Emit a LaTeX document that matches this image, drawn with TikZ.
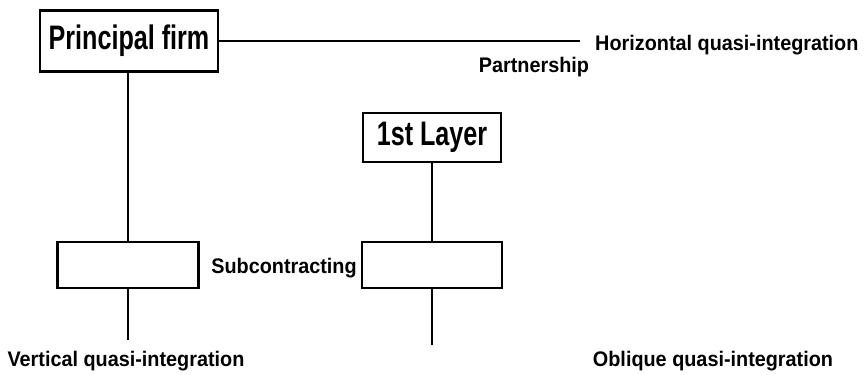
\documentclass[tikz,border=0pt]{standalone}
\usepackage{fontspec}
\setmainfont{Liberation Sans}
\usetikzlibrary{positioning}
\newfontfamily\boxfont[FakeStretch=0.74]{Liberation Sans}
\newfontfamily\labelfont[FakeStretch=0.94]{Liberation Sans}
\tikzset{
  firm/.style={draw,line width=2.2pt,inner sep=0pt,font=\boxfont\bfseries\fontsize{29}{32}\selectfont},
  txt/.style={inner sep=0pt,font=\labelfont\bfseries\fontsize{18}{21}\selectfont}
}

\begin{document}
\begin{tikzpicture}[x=0.03cm,y=-0.03cm]
        \useasboundingbox (0,0) rectangle (866,375);
        \node[firm,minimum width=5.34cm,minimum height=1.83cm] at (129,41) (principal) {Principal firm};
        \node[firm,minimum width=4.14cm,minimum height=1.47cm] at (432,137.5) (layer) {1st Layer};
        \node[firm,minimum width=4.23cm,minimum height=1.38cm] at (128,265) (subA) {};
        \node[firm,minimum width=4.2cm,minimum height=1.38cm] at (432,265) (subB) {};
        \coordinate (hEnd) at (580,41);
        \coordinate (vEnd) at (128,340);
        \coordinate (oEnd) at (432,345);
        \node[txt,anchor=west] at (595,45) (horiz) {Horizontal quasi-integration};
        \node[txt] at (534,67) (partner) {Partnership};
        \node[txt] at (284,268) (subc) {Subcontracting};
        \node[txt] at (126,361) (vert) {Vertical quasi-integration};
        \node[txt] at (713,361) (obl) {Oblique quasi-integration};
        \path[line width=1.3pt]
        (principal.east) edge (hEnd)
        (principal.south -| subA) edge (subA)
        (layer) edge (subB)
        (subA) edge (vEnd)
        (subB) edge (oEnd)
        ;
    \end{tikzpicture}
\end{document}
